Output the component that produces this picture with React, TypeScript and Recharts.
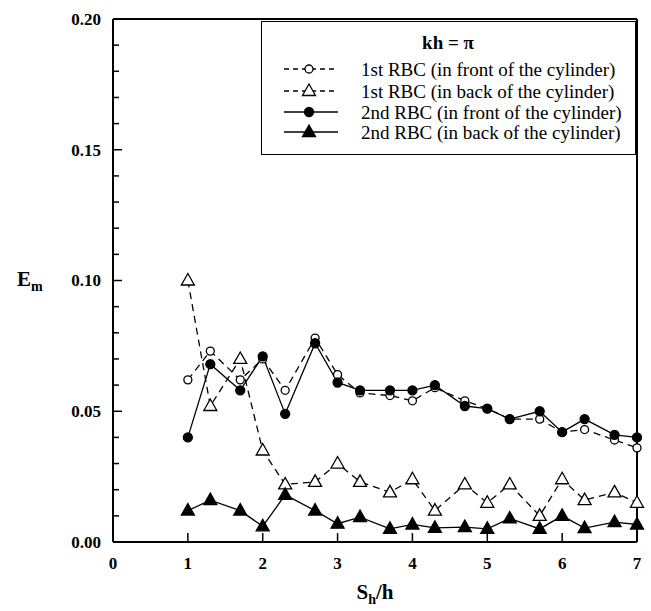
import { LineChart, Line, XAxis, YAxis, Label, ReferenceLine } from "recharts";

// spacing ratio S_h/h where the four RBC configurations were evaluated
const spacing = [1, 1.3, 1.7, 2, 2.3, 2.7, 3, 3.3, 3.7, 4, 4.3, 4.7, 5, 5.3, 5.7, 6, 6.3, 6.7, 7];

// E_m for each configuration
const firstFront = [0.062, 0.073, 0.062, 0.07, 0.058, 0.078, 0.064, 0.057, 0.056, 0.054, 0.059, 0.054, 0.051, 0.047, 0.047, 0.042, 0.043, 0.039, 0.036];
const firstBack = [0.1, 0.052, 0.07, 0.035, 0.022, 0.023, 0.030, 0.023, 0.019, 0.024, 0.012, 0.022, 0.015, 0.022, 0.010, 0.024, 0.016, 0.019, 0.015];
const secondFront = [0.04, 0.068, 0.058, 0.071, 0.049, 0.076, 0.061, 0.058, 0.058, 0.058, 0.06, 0.052, 0.051, 0.047, 0.05, 0.042, 0.047, 0.041, 0.04];
const secondBack = [0.012, 0.016, 0.012, 0.006, 0.018, 0.012, 0.007, 0.0095, 0.005, 0.0067, 0.0054, 0.0057, 0.005, 0.009, 0.005, 0.01, 0.0053, 0.0076, 0.0067];

const xTicks = [0, 1, 2, 3, 4, 5, 6, 7];
const yMajorTicks = [0, 0.05, 0.1, 0.15, 0.2];
const yMinorTicks = [0.01, 0.02, 0.03, 0.04, 0.06, 0.07, 0.08, 0.09, 0.11, 0.12, 0.13, 0.14, 0.16, 0.17, 0.18, 0.19];

const legendTitle = "kh = π";
const legendLabels = [
  "1st RBC (in front of the cylinder)",
  "1st RBC (in back of the cylinder)",
  "2nd RBC (in front of the cylinder)",
  "2nd RBC (in back of the cylinder)",
];

const rows = spacing.map((s, i) => ({
  s,
  firstFront: firstFront[i],
  firstBack: firstBack[i],
  secondFront: secondFront[i],
  secondBack: secondBack[i],
}));

const FONT = "'Liberation Serif', 'Times New Roman', serif";
const DASH = "7 5";
const AXIS_LINE = { stroke: "#000", strokeWidth: 2 };

// inward tick lengths in axis units (~9px major, ~6px minor)
const X_MAJOR_LEN = 0.12;
const X_MINOR_LEN = 0.08;
const Y_TICK_LEN = 0.0034;

const Circle = ({ cx, cy, filled }: any) => (
  <circle cx={cx} cy={cy} r={filled ? 4.5 : 4} fill={filled ? "#000" : "#fff"} stroke="#000" strokeWidth={1.3} />
);

const Triangle = ({ cx, cy, filled }: any) => (
  <polygon
    points={`${cx},${cy - 7} ${cx - 6.5},${cy + 4.5} ${cx + 6.5},${cy + 4.5}`}
    fill={filled ? "#000" : "#fff"}
    stroke="#000"
    strokeWidth={1.3}
    strokeLinejoin="miter"
  />
);

const YTickLabel = ({ x, y, payload }: any) => (
  <text x={x - 12} y={y} dy="0.35em" textAnchor="end" fontFamily={FONT} fontWeight="bold" fontSize={17} fill="#000">
    {Number(payload.value).toFixed(2)}
  </text>
);

const XTickLabel = ({ x, y, payload }: any) => (
  <text x={x} y={y + 27} textAnchor="middle" fontFamily={FONT} fontWeight="bold" fontSize={17} fill="#000">
    {payload.value}
  </text>
);

const YTitle = ({ viewBox }: any) => (
  <text x={17} y={viewBox.y + 267} fontFamily={FONT} fontWeight="bold" fontSize={21} fill="#000">
    E<tspan fontSize={14} dy={5}>m</tspan>
  </text>
);

const XTitle = ({ viewBox }: any) => (
  <text x={viewBox.x + viewBox.width / 2} y={599} textAnchor="middle" fontFamily={FONT} fontWeight="bold" fontSize={21} fill="#000">
    S<tspan fontSize={14} dy={5}>h</tspan>
    <tspan dy={-5}>/h</tspan>
  </text>
);

const LegendSample = ({ y, dashed, marker }: { y: number; dashed: boolean; marker: JSX.Element }) => (
  <g>
    <line x1={22} x2={76} y1={y} y2={y} stroke="#000" strokeWidth={1.3} strokeDasharray={dashed ? "5 4" : undefined} />
    {marker}
  </g>
);

const ChartLegend = () => {
  const ys = [47, 69, 90, 110];
  const markers = [
    <Circle cx={47} cy={ys[0]} />,
    <Triangle cx={47} cy={ys[1]} />,
    <Circle cx={47} cy={ys[2]} filled />,
    <Triangle cx={47} cy={ys[3]} filled />,
  ];
  return (
    <div
      style={{
        position: "absolute",
        left: 261,
        top: 21,
        width: 373,
        height: 132,
        border: "1.5px solid #000",
        background: "#fff",
      }}
    >
      <svg width={373} height={132}>
        <text x={186} y={27} textAnchor="middle" fontFamily={FONT} fontWeight="bold" fontSize={19} fill="#000">
          {legendTitle}
        </text>
        {legendLabels.map((label, i) => (
          <g key={label}>
            <LegendSample y={ys[i]} dashed={i < 2} marker={markers[i]} />
            <text x={99} y={ys[i]} dy="0.35em" fontFamily={FONT} fontSize={19} fill="#000">
              {label}
            </text>
          </g>
        ))}
      </svg>
    </div>
  );
};

export default function App() {
  return (
    <div style={{ position: "absolute", left: 0, top: 0, width: 651, height: 611, background: "#fff" }}>
      <LineChart width={651} height={611} data={rows} margin={{ top: 18, right: 13, bottom: 0, left: 0 }}>
        <XAxis
          dataKey="s"
          type="number"
          domain={[0, 7]}
          ticks={xTicks}
          interval={0}
          height={69}
          tickSize={0}
          tickMargin={0}
          tickLine={false}
          tick={<XTickLabel />}
          axisLine={AXIS_LINE}
        >
          <Label content={<XTitle />} />
        </XAxis>
        <XAxis
          xAxisId="top"
          orientation="top"
          type="number"
          domain={[0, 7]}
          height={1}
          tick={false}
          tickLine={false}
          axisLine={AXIS_LINE}
        />
        <YAxis
          type="number"
          domain={[0, 0.2]}
          ticks={yMajorTicks}
          interval={0}
          width={113}
          tickSize={0}
          tickMargin={0}
          tickLine={false}
          tick={<YTickLabel />}
          axisLine={AXIS_LINE}
        >
          <Label content={<YTitle />} />
        </YAxis>
        <YAxis
          yAxisId="right"
          orientation="right"
          type="number"
          domain={[0, 0.2]}
          width={1}
          tick={false}
          tickLine={false}
          axisLine={AXIS_LINE}
        />
        {/* inward tick marks */}
        {xTicks.slice(1).map((v) => (
          <ReferenceLine
            key={`xt-${v}`}
            segment={[{ x: v, y: 0 }, { x: v, y: Y_TICK_LEN }]}
            stroke="#000"
            strokeWidth={1.5}
          />
        ))}
        {yMajorTicks.slice(1, -1).map((v) => (
          <ReferenceLine
            key={`ym-${v}`}
            segment={[{ x: 0, y: v }, { x: X_MAJOR_LEN, y: v }]}
            stroke="#000"
            strokeWidth={1.5}
          />
        ))}
        {yMinorTicks.map((v) => (
          <ReferenceLine
            key={`yn-${v}`}
            segment={[{ x: 0, y: v }, { x: X_MINOR_LEN, y: v }]}
            stroke="#000"
            strokeWidth={1.5}
          />
        ))}
        <Line
          dataKey="firstFront"
          stroke="#000"
          strokeWidth={1.3}
          strokeDasharray={DASH}
          isAnimationActive={false}
          dot={(p: any) => <Circle key={`ff-${p.index}`} cx={p.cx} cy={p.cy} />}
        />
        <Line
          dataKey="firstBack"
          stroke="#000"
          strokeWidth={1.3}
          strokeDasharray={DASH}
          isAnimationActive={false}
          dot={(p: any) => <Triangle key={`fb-${p.index}`} cx={p.cx} cy={p.cy} />}
        />
        <Line
          dataKey="secondFront"
          stroke="#000"
          strokeWidth={1.3}
          isAnimationActive={false}
          dot={(p: any) => <Circle key={`sf-${p.index}`} cx={p.cx} cy={p.cy} filled />}
        />
        <Line
          dataKey="secondBack"
          stroke="#000"
          strokeWidth={1.3}
          isAnimationActive={false}
          dot={(p: any) => <Triangle key={`sb-${p.index}`} cx={p.cx} cy={p.cy} filled />}
        />
      </LineChart>
      <ChartLegend />
    </div>
  );
}
